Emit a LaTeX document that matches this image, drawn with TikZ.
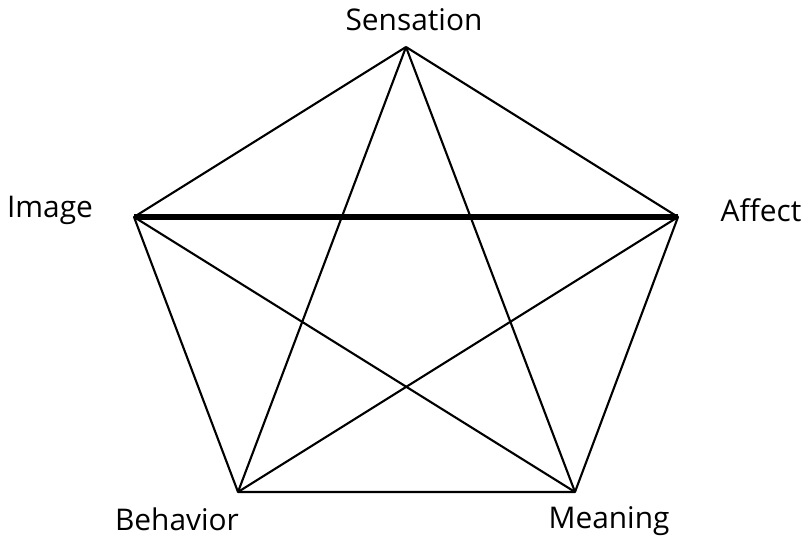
\documentclass[tikz,border=0pt]{standalone}
\usepackage{fontspec}
\setmainfont{Open Sans}
\begin{document}
\begin{tikzpicture}[x=0.02cm,y=-0.02cm,line join=round,font=\fontsize{17}{20}\selectfont]
  \tikzset{edge/.style={line width=1.2pt},strong/.style={line width=3pt}}
  \useasboundingbox (0,0) rectangle (806,536);

  % Corners of the pentagon
  \coordinate (sen) at (406,47);
  \coordinate (img) at (134,217);
  \coordinate (aff) at (678,217);
  \coordinate (beh) at (238,492);
  \coordinate (mea) at (575,492);

  % Labels
  \node (lsen) at (414,20) {Sensation};
  \node (limg) at (50,210) {Image};
  \node (laff) at (761,210) {Affect};
  \node (lbeh) at (177,519) {Behavior};
  \node (lmea) at (609,521) {Meaning};

  % Outer edges
  \draw[edge] (sen) -- (aff) -- (mea) -- (beh) -- (img) -- (sen);

  % Inner star
  \draw[edge] (sen) -- (beh);
  \draw[edge] (sen) -- (mea);
  \draw[edge] (img) -- (mea);
  \draw[edge] (aff) -- (beh);
  \draw[strong] (img) -- (aff);
\end{tikzpicture}
\end{document}
